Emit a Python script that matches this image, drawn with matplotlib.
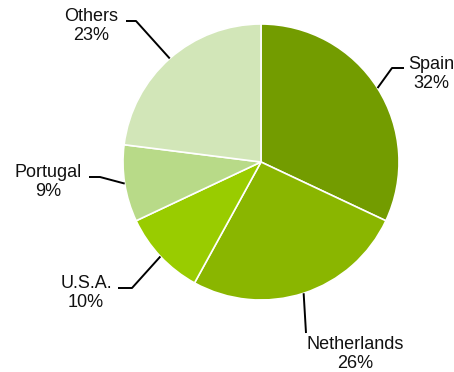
import numpy as np
import matplotlib.pyplot as plt

# Datos
paises = ["Spain", "Netherlands", "U.S.A.", "Portugal", "Others"]
porcentajes = [32, 26, 10, 9, 23]
colores = ["#739c00", "#8ab600", "#99cc00", "#b8da88", "#d2e6b8"]

# Layout in pixel coords (y grows downward)
cx, cy, r = 261, 162, 138
# (elbow, end of leader, text position) per slice
guias = {
    "Spain":       ((392, 68), (404, 68), (431, 74)),
    "Netherlands": ((306, 333), (306, 333), (355, 354)),
    "U.S.A.":      ((132, 288), (118, 288), (86, 293)),
    "Portugal":    ((100, 177), (89, 177), (48, 182)),
    "Others":      ((136, 21), (126, 21), (91, 26)),
}

plt.rcParams['font.family'] = ['Liberation Sans', 'DejaVu Sans']
fig = plt.figure(figsize=(4.54, 3.72), dpi=100)
ax = fig.add_axes([0, 0, 1, 1])

ax.pie(porcentajes, colors=colores, center=(cx, cy), radius=r,
       startangle=-90, counterclock=True,
       wedgeprops=dict(edgecolor='white', linewidth=1.2))
ax.set_xlim(0, 454)
ax.set_ylim(372, 0)
ax.set_aspect('equal')
ax.axis('off')

total = sum(porcentajes)
acum = 0
for pais, pct in zip(paises, porcentajes):
    medio = (acum + pct / 2) / total * 2 * np.pi
    acum += pct
    x0 = cx + r * np.sin(medio)
    y0 = cy - r * np.cos(medio)
    (ex, ey), (fx, fy), (tx, ty) = guias[pais]
    ax.plot([x0, ex, fx], [y0, ey, fy], color='black', linewidth=1.4,
            solid_capstyle='butt')
    ax.text(tx, ty, f"{pais}\n{pct}%", ha='center', va='center',
            multialignment='center', fontsize=13, color='#111111',
            linespacing=1.15)

fig.savefig("out.png", dpi=100)
